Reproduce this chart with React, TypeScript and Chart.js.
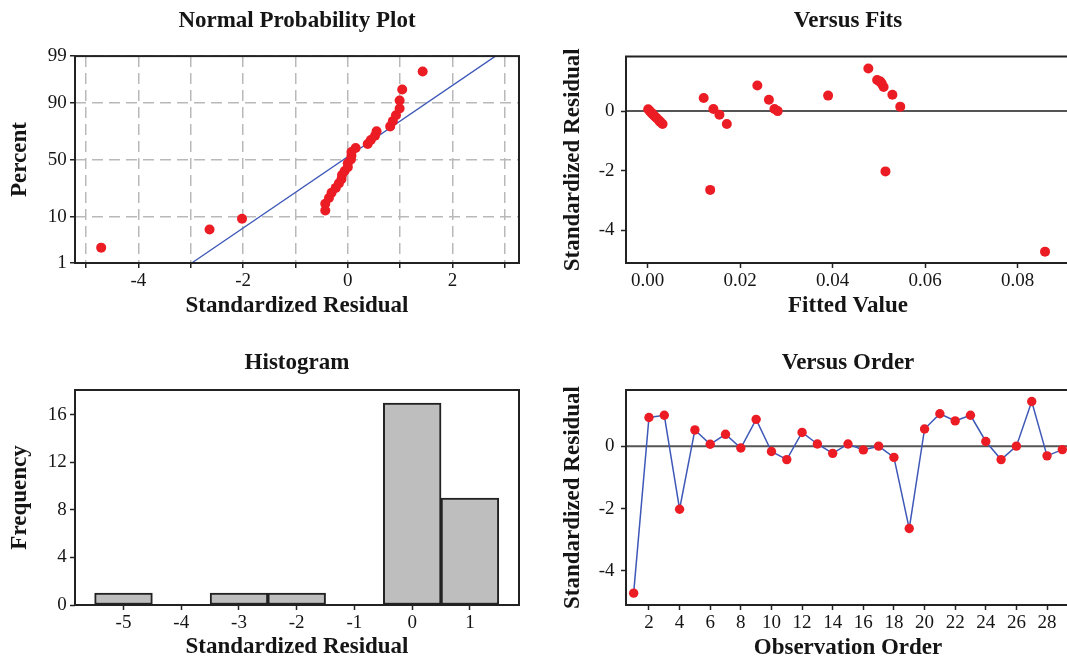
import React, { useEffect, useRef } from 'react';
import { Chart, registerables } from 'chart.js';

Chart.register(...registerables);

// ---------- data ----------
const observationOrder = [1, 2, 3, 4, 5, 6, 7, 8, 9, 10, 11, 12, 13, 14, 15, 16, 17, 18, 19, 20, 21, 22, 23, 24, 25, 26, 27, 28, 29];
const residuals = [-4.71, 0.92, 0.99, -2.02, 0.52, 0.06, 0.38, -0.06, 0.86, -0.17, -0.43, 0.44, 0.07, -0.23, 0.07, -0.12, 0.0, -0.36, -2.64, 0.55, 1.04, 0.81, 0.99, 0.15, -0.43, 0.0, 1.43, -0.31, -0.11];
const fittedValues = [0.0859, 0.0506, 0.0501, 0.0514, 0.039, 0.0001, 0.0262, 0.0008, 0.0237, 0.0015, 0.0171, 0.0121, 0.0142, 0.0019, 0.0274, 0.0155, 0.0281, 0.0027, 0.0135, 0.0529, 0.0496, 0.051, 0.0503, 0.0546, 0.0032, 0.00045, 0.0477, 0.0024, 0.0011];
// percent positions of the sorted residuals on the normal probability plot
const normalPercents = [2.381, 5.782, 9.184, 12.585, 15.986, 19.388, 22.789, 26.19, 29.592, 32.993, 36.395, 39.796, 43.197, 46.599, 50.0, 53.401, 56.803, 60.204, 63.605, 67.007, 70.408, 73.81, 77.211, 80.612, 84.014, 87.415, 90.816, 94.218, 97.619];
const fitLineResidual = [-2.98, 2.82];
const fitLinePercent = [1, 99];
const histBins = [-5, -4, -3, -2, -1, 0, 1];
const histCounts = [1, 0, 1, 1, 0, 17, 9];

// ---------- tick labels ----------
const percentTicks = [1, 10, 50, 90, 99];
const normalXTicks = [-5, -4, -3, -2, -1, 0, 1, 2, 3];
const fitsXTicks = [0, 0.02, 0.04, 0.06, 0.08];
const residualTicks = [-4, -2, 0];
const frequencyTicks = [0, 4, 8, 12, 16];
const orderTicks = [2, 4, 6, 8, 10, 12, 14, 16, 18, 20, 22, 24, 26, 28];

// ---------- styles ----------
const SERIF = "'Liberation Serif', 'Times New Roman', serif";
const TEXT = '#151515';
const RED = 'rgb(236, 28, 36)';
const BLUE = 'rgb(62, 88, 184)';
const FRAME = '#222222';
const tickFont = { family: SERIF, size: 19 };
const titleFont = { family: SERIF, size: 23, weight: 'bold' as const };

function probit(p: number): number {
  const a = [-3.969683028665376e1, 2.209460984245205e2, -2.759285104469687e2, 1.38357751867269e2, -3.066479806614716e1, 2.506628277459239];
  const b = [-5.447609879822406e1, 1.615858368580409e2, -1.556989798598866e2, 6.680131188771972e1, -1.328068155288572e1];
  const c = [-7.784894002430293e-3, -3.223964580411365e-1, -2.400758277161838, -2.549732539343734, 4.374664141464968, 2.938163982698783];
  const d = [7.784695709041462e-3, 3.224671290700398e-1, 2.445134137142996, 3.754408661907416];
  const plow = 0.02425;
  const phigh = 1 - plow;
  if (p < plow) {
    const q = Math.sqrt(-2 * Math.log(p));
    return (((((c[0] * q + c[1]) * q + c[2]) * q + c[3]) * q + c[4]) * q + c[5]) / ((((d[0] * q + d[1]) * q + d[2]) * q + d[3]) * q + 1);
  }
  if (p <= phigh) {
    const q = p - 0.5;
    const r = q * q;
    return ((((((a[0] * r + a[1]) * r + a[2]) * r + a[3]) * r + a[4]) * r + a[5]) * q) / (((((b[0] * r + b[1]) * r + b[2]) * r + b[3]) * r + b[4]) * r + 1);
  }
  const q = Math.sqrt(-2 * Math.log(1 - p));
  return -(((((c[0] * q + c[1]) * q + c[2]) * q + c[3]) * q + c[4]) * q + c[5]) / ((((d[0] * q + d[1]) * q + d[2]) * q + d[3]) * q + 1);
}

const framePlugin = {
  id: 'frame',
  afterDatasetsDraw(chart: any) {
    const { ctx, chartArea: a } = chart;
    ctx.save();
    ctx.strokeStyle = FRAME;
    ctx.lineWidth = 2;
    ctx.strokeRect(a.left, a.top, a.right - a.left, a.bottom - a.top);
    ctx.restore();
  },
};

const zeroLinePlugin = {
  id: 'zeroLine',
  beforeDatasetsDraw(chart: any) {
    const { ctx, chartArea: a } = chart;
    const y = chart.scales.y.getPixelForValue(0);
    ctx.save();
    ctx.strokeStyle = '#555555';
    ctx.lineWidth = 2;
    ctx.beginPath();
    ctx.moveTo(a.left, y);
    ctx.lineTo(a.right, y);
    ctx.stroke();
    ctx.restore();
  },
};

const setTicks = (values: number[]) => (s: any) => {
  s.ticks = values.map((v) => ({ value: v }));
};

function plainGrid() {
  return { display: true, drawOnChartArea: false, drawTicks: true, tickLength: 5, tickWidth: 1.5, tickColor: FRAME, tickBorderDash: [] };
}

function xAxis(opts: any) {
  return {
    type: 'linear',
    min: opts.min,
    max: opts.max,
    offset: false,
    afterBuildTicks: setTicks(opts.ticks),
    afterFit: (s: any) => {
      s.height = opts.height;
    },
    ticks: { font: tickFont, color: TEXT, padding: opts.tickPad, autoSkip: false, maxRotation: 0, minRotation: 0, callback: opts.label },
    grid: opts.grid || { ...plainGrid(), offset: false },
    border: opts.border || { display: false },
    title: { display: true, text: opts.title, font: titleFont, color: TEXT, padding: { top: 0, bottom: opts.titlePad } },
  };
}

function yAxis(opts: any) {
  return {
    type: 'linear',
    min: opts.min,
    max: opts.max,
    afterBuildTicks: setTicks(opts.ticks),
    afterFit: (s: any) => {
      s.width = opts.width;
    },
    ticks: { font: tickFont, color: TEXT, padding: opts.tickPad, autoSkip: false, callback: opts.label },
    grid: opts.grid || plainGrid(),
    border: opts.border || { display: false },
    title: { display: true, text: opts.title, font: titleFont, color: TEXT, padding: { top: 5.9, bottom: 0 } },
  };
}

function titleOpts(text: string, top: number, bottom: number) {
  return { display: true, text, font: titleFont, color: TEXT, fullSize: false, padding: { top, bottom } };
}

const basePlugins = { legend: { display: false }, tooltip: { enabled: false } };

function normalConfig(): any {
  const sorted = [...residuals].sort((p, q) => p - q);
  const dashedGrid = { display: true, drawOnChartArea: true, color: '#b9b9b9', lineWidth: 1.5, drawTicks: true, tickLength: 5, tickWidth: 1.5, tickColor: FRAME, tickBorderDash: [] };
  return {
    type: 'scatter',
    data: {
      datasets: [
        {
          data: sorted.map((r, i) => ({ x: r, y: probit(normalPercents[i] / 100) })),
          backgroundColor: RED,
          borderWidth: 0,
          pointRadius: 5,
          order: 0,
        },
        {
          data: fitLineResidual.map((r, i) => ({ x: r, y: probit(fitLinePercent[i] / 100) })),
          showLine: true,
          borderColor: BLUE,
          borderWidth: 1.3,
          pointRadius: 0,
          order: 1,
        },
      ],
    },
    options: {
      responsive: false,
      animation: false,
      layout: { padding: { left: 0, right: 11, top: 0, bottom: 0 } },
      plugins: { ...basePlugins, title: titleOpts('Normal Probability Plot', 7.5, 21) },
      scales: {
        x: xAxis({
          min: -5.21, max: 3.27, ticks: normalXTicks, height: 60, tickPad: 1.6, titlePad: 3,
          title: 'Standardized Residual',
          label: (v: number) => (v % 2 === 0 ? String(v) : ''),
          grid: dashedGrid,
          border: { display: false, dash: [11, 6] },
        }),
        y: yAxis({
          min: probit(0.01), max: probit(0.99), ticks: percentTicks.map((p) => probit(p / 100)), width: 75, tickPad: 3.3,
          title: 'Percent',
          label: (_v: number, i: number) => String(percentTicks[i]),
          grid: dashedGrid,
          border: { display: false, dash: [11, 6] },
        }),
      },
    },
    plugins: [framePlugin],
  };
}

function fitsConfig(): any {
  return {
    type: 'scatter',
    data: {
      datasets: [
        {
          data: fittedValues.map((f, i) => ({ x: f, y: residuals[i] })),
          backgroundColor: RED,
          borderWidth: 0,
          pointRadius: 5,
        },
      ],
    },
    options: {
      responsive: false,
      animation: false,
      layout: { padding: { left: 0, right: 10, top: 0, bottom: 0 } },
      plugins: { ...basePlugins, title: titleOpts('Versus Fits', 7.5, 21.4) },
      scales: {
        x: xAxis({
          min: -0.0047, max: 0.0913, ticks: fitsXTicks, height: 60, tickPad: 1.6, titlePad: 3,
          title: 'Fitted Value',
          label: (v: number) => v.toFixed(2),
        }),
        y: yAxis({
          min: -5.09, max: 1.83, ticks: residualTicks, width: 73, tickPad: 6.5,
          title: 'Standardized Residual',
          label: (v: number) => String(v),
        }),
      },
    },
    plugins: [zeroLinePlugin, framePlugin],
  };
}

function histConfig(): any {
  return {
    type: 'bar',
    data: {
      datasets: [
        {
          data: histBins.map((b, i) => ({ x: b, y: histCounts[i] })),
          backgroundColor: '#bebebe',
          borderColor: FRAME,
          borderWidth: 2,
          borderSkipped: false,
          barPercentage: 1,
          categoryPercentage: 1,
        },
      ],
    },
    options: {
      responsive: false,
      animation: false,
      layout: { padding: { left: 0, right: 11, top: 0, bottom: 0 } },
      plugins: { ...basePlugins, title: titleOpts('Histogram', 14.1, 13.3) },
      scales: {
        x: xAxis({
          min: -5.84, max: 1.85, ticks: histBins, height: 57, tickPad: 1.4, titlePad: 1,
          title: 'Standardized Residual',
          label: (v: number) => String(v),
        }),
        y: yAxis({
          min: 0, max: 18.1, ticks: frequencyTicks, width: 75, tickPad: 3.3,
          title: 'Frequency',
          label: (v: number) => String(v),
        }),
      },
    },
    plugins: [framePlugin],
  };
}

function orderConfig(): any {
  return {
    type: 'scatter',
    data: {
      datasets: [
        {
          data: observationOrder.map((o, i) => ({ x: o, y: residuals[i] })),
          showLine: true,
          borderColor: BLUE,
          borderWidth: 1.5,
          backgroundColor: RED,
          pointBackgroundColor: RED,
          pointBorderWidth: 0,
          pointRadius: 4.7,
        },
      ],
    },
    options: {
      responsive: false,
      animation: false,
      layout: { padding: { left: 0, right: 10, top: 0, bottom: 0 } },
      plugins: { ...basePlugins, title: titleOpts('Versus Order', 14.1, 13.3) },
      scales: {
        x: xAxis({
          min: 0.5, max: 29.5, ticks: orderTicks, height: 57, tickPad: 2, titlePad: 0,
          title: 'Observation Order',
          label: (v: number) => String(v),
        }),
        y: yAxis({
          min: -5.09, max: 1.8, ticks: residualTicks, width: 73, tickPad: 6.5,
          title: 'Standardized Residual',
          label: (v: number) => String(v),
        }),
      },
    },
    plugins: [zeroLinePlugin, framePlugin],
  };
}

function ChartBox(props: { left: number; top: number; width: number; height: number; make: () => any }) {
  const ref = useRef<HTMLCanvasElement>(null);
  useEffect(() => {
    Chart.defaults.font.family = SERIF;
    const chart = new Chart(ref.current as HTMLCanvasElement, props.make());
    return () => chart.destroy();
  }, []);
  return (
    <canvas
      ref={ref}
      width={props.width}
      height={props.height}
      style={{ position: 'absolute', left: props.left, top: props.top, width: props.width, height: props.height }}
    />
  );
}

export default function App() {
  return (
    <div style={{ position: 'fixed', left: 0, top: 0, width: 1067, height: 662, overflow: 'hidden', background: '#ffffff' }}>
      <ChartBox left={0} top={0} width={530} height={323} make={normalConfig} />
      <ChartBox left={553} top={0} width={527} height={323} make={fitsConfig} />
      <ChartBox left={0} top={335} width={530} height={327} make={histConfig} />
      <ChartBox left={553} top={335} width={527} height={327} make={orderConfig} />
    </div>
  );
}
